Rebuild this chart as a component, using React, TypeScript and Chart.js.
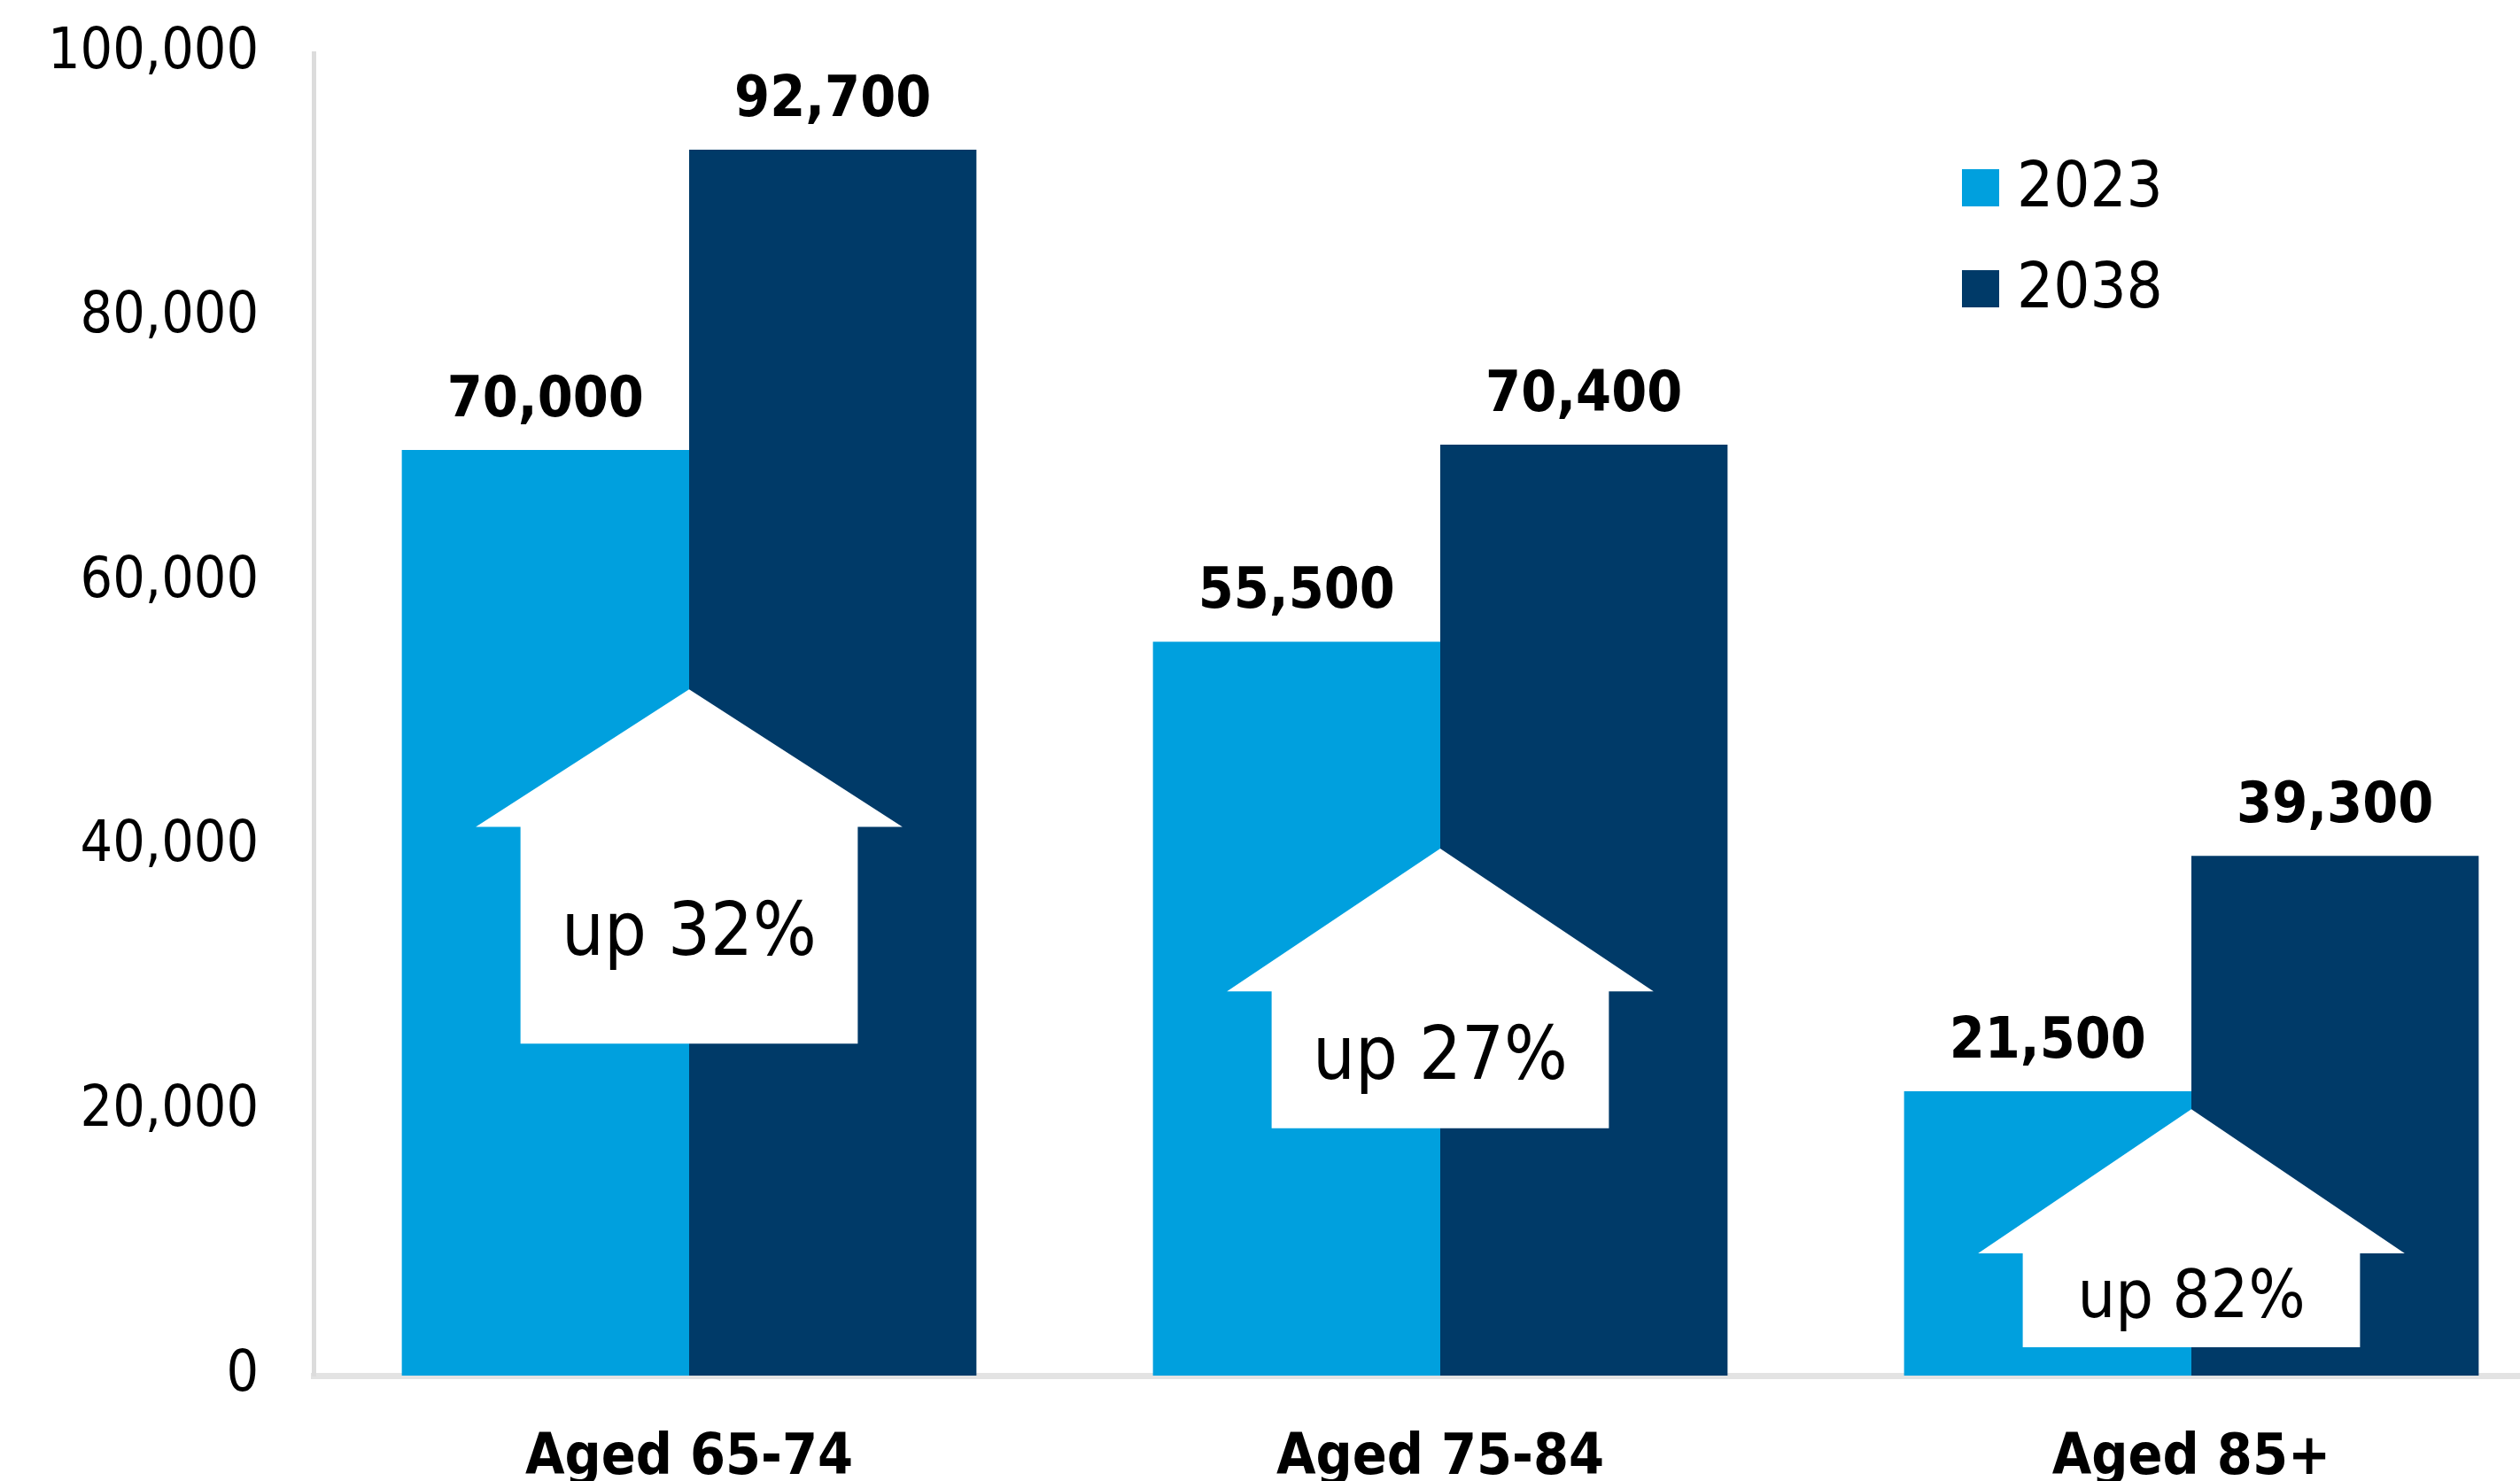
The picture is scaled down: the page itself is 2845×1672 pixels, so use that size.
import React, { useEffect, useRef } from "react";
import { Chart, registerables } from "chart.js";

Chart.register(...registerables);

const categories = ["Aged 65-74", "Aged 75-84", "Aged 85+"];
const seriesNames = ["2023", "2038"];
const values2023 = [70000, 55500, 21500];
const values2038 = [92700, 70400, 39300];
const yTickValues = [0, 20000, 40000, 60000, 80000, 100000];
const changeLabels = ["up 32%", "up 27%", "up 82%"];
const arrowTipValues = [51900, 39850, 20150];
const arrowShoulderValues = [41500, 29050, 9250];
const arrowBottomValues = [25100, 18700, 2150];

const COLORS = ["#00A0DE", "#003A68"];
const FONT = '"DejaVu Sans Condensed", "DejaVu Sans", sans-serif';
const ARROW_FONT_SIZES = [84, 84, 75];

const overlayPlugin = {
  id: "overlay",
  afterDatasetsDraw(chart: any) {
    const { ctx } = chart;
    const x = chart.scales.x;
    const y = chart.scales.y;
    const step = x.getPixelForValue(1) - x.getPixelForValue(0);
    ctx.save();
    // up arrows
    categories.forEach((_, i) => {
      const cx = x.getPixelForValue(i);
      const tip = y.getPixelForValue(arrowTipValues[i]);
      const sh = y.getPixelForValue(arrowShoulderValues[i]);
      const bot = y.getPixelForValue(arrowBottomValues[i]);
      const hw = step * 0.284;
      const bw = step * 0.2245;
      ctx.beginPath();
      ctx.moveTo(cx, tip);
      ctx.lineTo(cx + hw, sh);
      ctx.lineTo(cx + bw, sh);
      ctx.lineTo(cx + bw, bot);
      ctx.lineTo(cx - bw, bot);
      ctx.lineTo(cx - bw, sh);
      ctx.lineTo(cx - hw, sh);
      ctx.closePath();
      ctx.fillStyle = "#FFFFFF";
      ctx.fill();
      ctx.fillStyle = "#000000";
      ctx.font = `${ARROW_FONT_SIZES[i]}px ${FONT}`;
      ctx.textAlign = "center";
      ctx.textBaseline = "middle";
      ctx.fillText(changeLabels[i], cx, (sh + bot) / 2);
    });
    // value labels
    chart.data.datasets.forEach((ds: any, di: number) => {
      const meta = chart.getDatasetMeta(di);
      meta.data.forEach((bar: any, i: number) => {
        ctx.fillStyle = "#000000";
        ctx.font = `bold 64px ${FONT}`;
        ctx.textAlign = "center";
        ctx.textBaseline = "alphabetic";
        ctx.fillText(Number(ds.data[i]).toLocaleString("en-US"), bar.x, bar.y - 38);
      });
    });
    // legend
    chart.data.datasets.forEach((ds: any, di: number) => {
      const cy = 212 + di * 114;
      ctx.fillStyle = ds.backgroundColor;
      ctx.fillRect(2215, cy - 21, 42, 42);
      ctx.fillStyle = "#000000";
      ctx.font = `72px ${FONT}`;
      ctx.textAlign = "left";
      ctx.textBaseline = "middle";
      ctx.fillText(ds.label, 2277, cy + 2);
    });
    ctx.restore();
  },
};

export default function App() {
  const canvasRef = useRef<HTMLCanvasElement | null>(null);

  useEffect(() => {
    if (!canvasRef.current) return;
    const chart = new Chart(canvasRef.current, {
      type: "bar",
      data: {
        labels: categories,
        datasets: [
          {
            label: seriesNames[0],
            data: values2023,
            backgroundColor: COLORS[0],
            borderWidth: 0,
            categoryPercentage: 0.765,
            barPercentage: 1,
          },
          {
            label: seriesNames[1],
            data: values2038,
            backgroundColor: COLORS[1],
            borderWidth: 0,
            categoryPercentage: 0.765,
            barPercentage: 1,
          },
        ],
      },
      options: {
        responsive: false,
        devicePixelRatio: 1,
        animation: false,
        layout: { padding: { left: 0, top: 60, right: 2, bottom: 0 } },
        plugins: {
          legend: { display: false },
          tooltip: { enabled: false },
        },
        scales: {
          x: {
            type: "category",
            grid: { display: false, drawTicks: false },
            border: { display: true, color: "#E3E3E3", width: 7 },
            ticks: {
              color: "#000000",
              font: { family: FONT, size: 64, weight: "bold" },
              padding: 56,
              maxRotation: 0,
            },
            afterFit: (s: any) => {
              s.height = 167;
              s.paddingLeft = 0;
              s.paddingRight = 0;
            },
          },
          y: {
            min: 0,
            max: 100000,
            grid: { display: false, drawTicks: false },
            border: { display: true, color: "#DCDCDC", width: 5 },
            afterBuildTicks: (s: any) => {
              s.ticks = yTickValues.map((v) => ({ value: v }));
            },
            ticks: {
              color: "#000000",
              font: { family: FONT, size: 64 },
              padding: 62,
              callback: (v: any) => Number(v).toLocaleString("en-US"),
            },
            afterFit: (s: any) => {
              s.width = 354;
              s.paddingTop = 0;
              s.paddingBottom = 0;
            },
          },
        },
      },
      plugins: [overlayPlugin],
    });
    return () => chart.destroy();
  }, []);

  return (
    <div
      style={{
        position: "fixed",
        left: 0,
        top: 0,
        width: 2845,
        height: 1672,
        overflow: "hidden",
        background: "#FFFFFF",
      }}
    >
      <canvas
        ref={canvasRef}
        width={2900}
        height={1720}
        style={{ position: "absolute", left: 0, top: 0, width: 2900, height: 1720 }}
      />
    </div>
  );
}
